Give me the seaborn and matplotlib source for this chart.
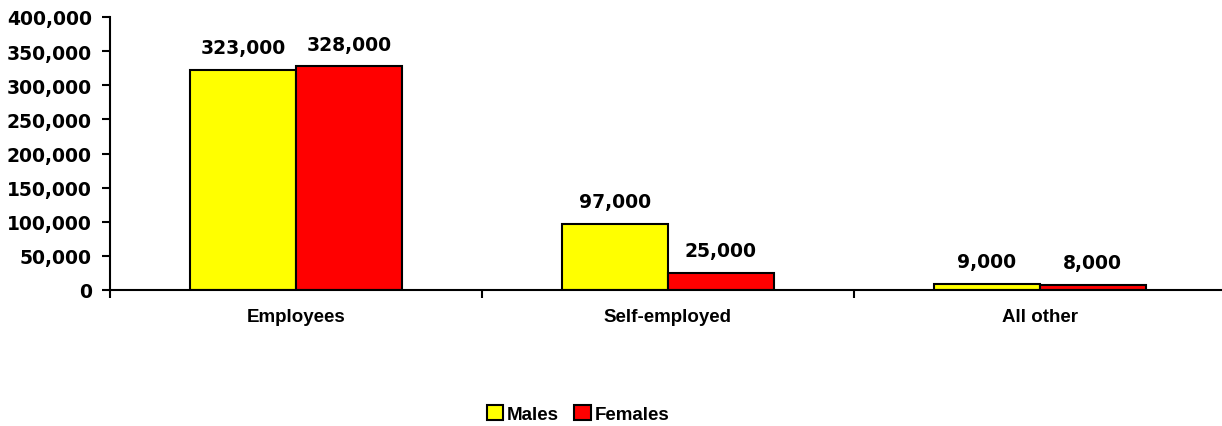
import matplotlib
matplotlib.use("Agg")
import matplotlib.pyplot as plt
import seaborn as sns
import pandas as pd
from matplotlib.ticker import FuncFormatter, FixedLocator

categories = ["Employees", "Self-employed", "All other"]
males = [323000, 97000, 9000]
females = [328000, 25000, 8000]
series_names = ["Males", "Females"]
colors = {"Males": "#FFFF00", "Females": "#FF0000"}

df = pd.DataFrame({
    "category": categories * 2,
    "value": males + females,
    "series": ["Males"] * len(categories) + ["Females"] * len(categories),
})

sns.set_theme(style="white")
plt.rcParams["font.family"] = ["DejaVu Sans"]
plt.rcParams["text.color"] = "black"
plt.rcParams["xtick.color"] = "black"
plt.rcParams["ytick.color"] = "black"
plt.rcParams["axes.labelcolor"] = "black"

fig = plt.figure(figsize=(12.22, 4.27), dpi=100)
ax = fig.add_axes([110 / 1222, 1 - 291 / 427, 1 - 110 / 1222, 273 / 427])

sns.barplot(data=df, x="category", y="value", hue="series", order=categories,
            hue_order=series_names, palette=colors, width=0.571, gap=0,
            edgecolor="black", linewidth=1.5, saturation=1, ax=ax)

ax.set_xlim(-0.5, 2.49)
ax.set_ylim(0, 400000)
ax.set_yticks(range(0, 400001, 50000))
ax.yaxis.set_major_formatter(FuncFormatter(lambda v, p: f"{int(v):,}"))
ax.set_xlabel("")
ax.set_ylabel("")

for lab in ax.get_yticklabels():
    lab.set_fontweight("bold")
    lab.set_fontsize(13.5)
    lab.set_color("black")
ax.tick_params(axis="y", length=6, width=1.5, color="black", pad=7, left=True)
ax.tick_params(axis="x", which="major", length=0, pad=13)
ax.xaxis.set_minor_locator(FixedLocator([-0.5, 0.5, 1.5]))
ax.tick_params(axis="x", which="minor", length=6, width=1.5, color="black", bottom=True)
for lab in ax.get_xticklabels():
    lab.set_fontweight("bold")
    lab.set_fontsize(13.5)
    lab.set_family(["Liberation Sans"])
    lab.set_color("black")

for s in ["top", "right"]:
    ax.spines[s].set_visible(False)
for s in ["left", "bottom"]:
    ax.spines[s].set_color("black")
    ax.spines[s].set_linewidth(1.5)

for cont in ax.containers:
    ax.bar_label(cont, labels=[f"{v:,.0f}" for v in cont.datavalues],
                 padding=9, fontsize=13.5, fontweight="bold", color="black")

handles, labels = ax.get_legend_handles_labels()
ax.get_legend().remove()
leg = fig.legend(handles, labels, loc="center", bbox_to_anchor=(578 / 1222, 1 - 415 / 427),
                 ncol=2, frameon=False, handlelength=0.9, handleheight=0.9,
                 handletextpad=0.2, columnspacing=0.8,
                 prop={"family": "Liberation Sans", "weight": "bold", "size": 13.5})
for t in leg.get_texts():
    t.set_color("black")

fig.savefig("out.png", dpi=100)
